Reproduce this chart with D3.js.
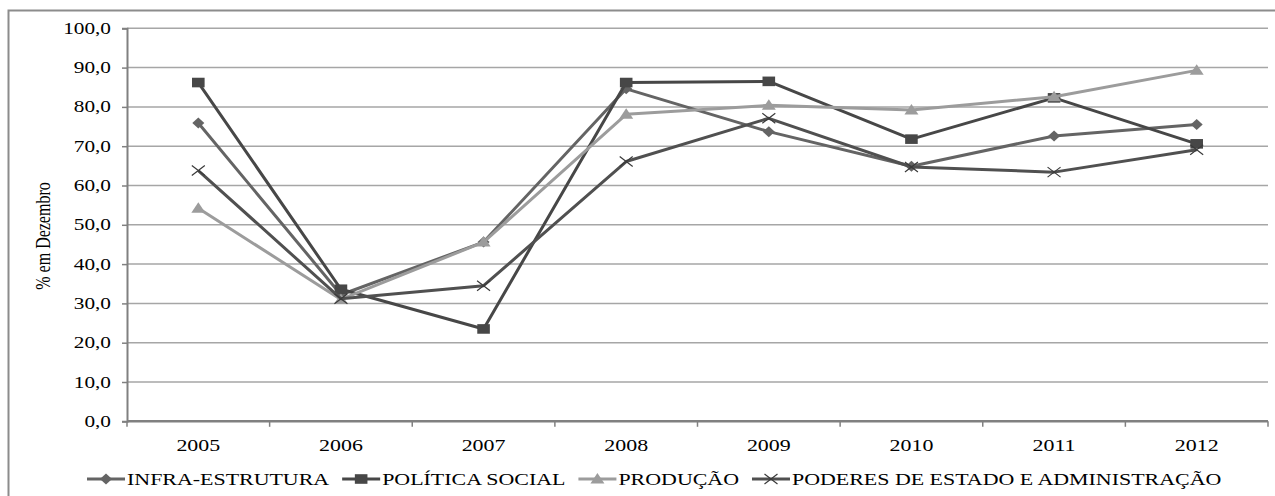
<!DOCTYPE html>
<html>
<head>
<meta charset="utf-8">
<script src="https://cdn.jsdelivr.net/npm/d3@7"></script>
<style>
  html, body { margin: 0; padding: 0; background: #fff; overflow: hidden; }
  svg { display: block; }
  text { font-family: "Liberation Serif", "Times New Roman", serif; fill: #000; }
</style>
</head>
<body>
<svg id="chart" width="1275" height="496"></svg>
<script>
// Execução orçamentária em dezembro, por área
const years = ["2005", "2006", "2007", "2008", "2009", "2010", "2011", "2012"];
const infraEstrutura = [75.9, 32.2, 45.6, 84.6, 73.7, 64.9, 72.6, 75.5];
const politicaSocial = [86.2, 33.6, 23.5, 86.2, 86.5, 71.8, 82.3, 70.6];
const producao      = [54.2, 31.0, 45.6, 78.1, 80.4, 79.2, 82.6, 89.3];
const poderes       = [63.8, 31.2, 34.5, 66.1, 77.1, 64.7, 63.4, 69.1];
const seriesNames = ["INFRA-ESTRUTURA", "POLÍTICA SOCIAL", "PRODUÇÃO", "PODERES DE ESTADO E ADMINISTRAÇÃO"];
const yTicks = [0, 10, 20, 30, 40, 50, 60, 70, 80, 90, 100];
const yTitle = "% em Dezembro";

const series = [
  { name: seriesNames[0], values: infraEstrutura, color: "#646464", marker: "diamond" },
  { name: seriesNames[1], values: politicaSocial, color: "#474747", marker: "square" },
  { name: seriesNames[2], values: producao,       color: "#9c9c9c", marker: "triangle" },
  { name: seriesNames[3], values: poderes,        color: "#505050", marker: "cross" }
];

const SX = 1.29;          // horizontal stretch of the glyphs
const svg = d3.select("#chart");
const plot = { left: 127, right: 1268, top: 28.3, bottom: 421.3 };

const x = d3.scaleBand().domain(years).range([plot.left, plot.right]).paddingInner(0).paddingOuter(0);
const y = d3.scaleLinear().domain([0, 100]).range([plot.bottom, plot.top]);
const cx = d => x(d) + x.bandwidth() / 2;

// outer frame (left and top edges fall inside the page)
svg.append("path")
  .attr("d", "M8.5,496V10.5H1275")
  .attr("fill", "none").attr("stroke", "#8c8c8c").attr("stroke-width", 2);

// stretched text helper
function stext(parent, px, py, str, size, anchor, rotate) {
  const g = parent.append("g").attr("transform", `translate(${px},${py})` + (rotate ? ` rotate(${rotate})` : ""));
  return g.append("text")
    .attr("transform", rotate ? `scale(1,${SX})` : `scale(${SX},1)`)
    .attr("text-anchor", anchor)
    .attr("font-size", size)
    .text(str);
}

// horizontal gridlines
svg.append("g").selectAll("line").data(yTicks.filter(t => t > 0)).join("line")
  .attr("x1", plot.left).attr("x2", plot.right)
  .attr("y1", d => y(d)).attr("y2", d => y(d))
  .attr("stroke", "#a6a6a6").attr("stroke-width", 1.5);

// y axis
const yAxis = svg.append("g").attr("transform", `translate(${plot.left},0)`)
  .call(d3.axisLeft(y).tickValues(yTicks).tickSize(5).tickFormat(""));
yAxis.select(".domain").attr("stroke", "#808080").attr("stroke-width", 2);
yAxis.selectAll(".tick line").attr("stroke", "#808080").attr("stroke-width", 1.5);
const fmt = d3.format(".1f");
yTicks.forEach(t => {
  stext(svg, 111, y(t) + 5.5, fmt(t).replace(".", ","), 16.5, "end");
});

// x axis with ticks at category boundaries
svg.append("line")
  .attr("x1", plot.left).attr("x2", plot.right)
  .attr("y1", plot.bottom).attr("y2", plot.bottom)
  .attr("stroke", "#808080").attr("stroke-width", 2.5);
const bounds = years.map(d => x(d)).concat([plot.right]);
svg.append("g").selectAll("line").data(bounds).join("line")
  .attr("x1", d => d).attr("x2", d => d)
  .attr("y1", plot.bottom).attr("y2", plot.bottom + 5.5)
  .attr("stroke", "#808080").attr("stroke-width", 1.5);
years.forEach(yr => stext(svg, cx(yr), 451, yr, 17, "middle"));

// y axis title
stext(svg, 50, 236, yTitle, 16, "middle", -90);

// markers
const diamondPath = "M0,-5.5L6,0L0,5.5L-6,0Z";
const squarePath = "M-6.3,-4.8H6.3V4.8H-6.3Z";
const trianglePath = "M0,-6L7,4.5H-7Z";
const crossPath = "M-6.5,-5L6.5,5M-6.5,5L6.5,-5";
function drawMarker(g, type, color) {
  if (type === "diamond") g.append("path").attr("d", diamondPath).attr("fill", color);
  else if (type === "square") g.append("path").attr("d", squarePath).attr("fill", color);
  else if (type === "triangle") g.append("path").attr("d", trianglePath).attr("fill", color);
  else g.append("path").attr("d", crossPath).attr("fill", "none").attr("stroke", "#3a3a3a").attr("stroke-width", 1.2);
}

const line = d3.line().x((d, i) => cx(years[i])).y(d => y(d));
series.forEach(s => {
  const g = svg.append("g");
  g.append("path").datum(s.values).attr("d", line)
    .attr("fill", "none").attr("stroke", s.color).attr("stroke-width", 3).attr("stroke-linejoin", "round");
  s.values.forEach((v, i) => {
    const m = g.append("g").attr("transform", `translate(${cx(years[i])},${y(v)})`);
    drawMarker(m, s.marker, s.color);
  });
});

// legend
const legend = svg.append("g");
let lx = 87;
const ly = 479;
series.forEach(s => {
  legend.append("line").attr("x1", lx).attr("x2", lx + 38).attr("y1", ly).attr("y2", ly)
    .attr("stroke", s.color).attr("stroke-width", 3);
  const m = legend.append("g").attr("transform", `translate(${lx + 19},${ly})`);
  drawMarker(m, s.marker, s.color);
  const t = stext(legend, lx + 40, ly + 6, s.name, 17, "start");
  lx += 40 + t.node().getComputedTextLength() * SX + 13;
});
</script>
</body>
</html>
